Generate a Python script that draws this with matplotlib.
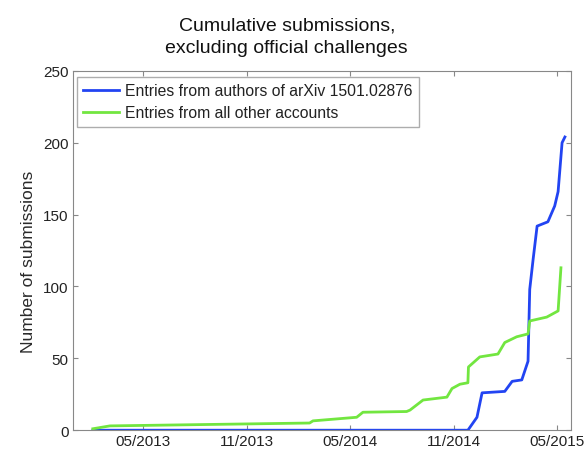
import numpy as np
import pandas as pd
import matplotlib
matplotlib.use('Agg')
import matplotlib.pyplot as plt
import matplotlib.dates as mdates

plt.rcParams['font.family'] = ['Liberation Sans', 'DejaVu Sans']

# cumulative counts
authorDates = ['2013-02-02', '2014-11-25', '2014-12-11', '2014-12-20', '2015-01-29',
               '2015-02-11', '2015-02-28', '2015-03-11', '2015-03-14', '2015-03-20',
               '2015-03-27', '2015-04-15', '2015-04-27', '2015-05-03', '2015-05-10',
               '2015-05-15']
authorCounts = [0, 0, 9, 26, 27, 34, 35, 48, 98, 119, 142, 145, 156, 166, 200, 204]

otherDates = ['2013-02-02', '2013-03-04', '2014-02-19', '2014-02-25', '2014-05-13',
              '2014-05-24', '2014-08-09', '2014-08-15', '2014-09-07', '2014-10-19',
              '2014-10-28', '2014-11-11', '2014-11-25', '2014-11-26', '2014-12-16',
              '2015-01-17', '2015-01-29', '2015-02-19', '2015-03-11', '2015-03-14',
              '2015-04-13', '2015-05-03', '2015-05-08']
otherCounts = [1, 3, 5, 6.5, 9, 12.5, 13, 14, 21, 23, 29, 32, 33, 44, 51,
               53, 61, 65, 67, 76, 78.7, 83, 113]

tickDates = ['2013-05-01', '2013-11-01', '2014-05-01', '2014-11-01', '2015-05-01']

fig = plt.figure(figsize=(5.84, 4.52), dpi=100)
ax = fig.add_axes([0.125, 0.046, 0.853, 0.795])

ax.plot(pd.to_datetime(authorDates), authorCounts, color='#2244f2', lw=2,
        label='Entries from authors of arXiv 1501.02876')
ax.plot(pd.to_datetime(otherDates), otherCounts, color='#72e640', lw=2,
        label='Entries from all other accounts')

ax.set_xlim(pd.Timestamp('2012-12-29'), pd.Timestamp('2015-05-26'))
ax.set_ylim(0, 250)
ax.set_yticks([0, 50, 100, 150, 200, 250])
ax.set_xticks(pd.to_datetime(tickDates))
ax.xaxis.set_major_formatter(mdates.DateFormatter('%m/%Y'))
ax.tick_params(direction='in', top=True, right=True, labelsize=11, color='#888888',
               labelcolor='#222222', pad=3)
for s in ax.spines.values():
    s.set_color('#888888')

fig.text(0.048, 0.42, 'Number of submissions', fontsize=12.5, rotation=90,
         ha='center', va='center', color='#2a2a2a')
fig.text(0.491, 0.883, 'Cumulative submissions,\nexcluding official challenges',
         fontsize=14, ha='center', va='baseline', linespacing=1.45, color='#111111')

leg = ax.legend(loc='upper left', bbox_to_anchor=(0.008, 0.983), borderaxespad=0,
                fontsize=11.3, fancybox=False, handlelength=2.3, handletextpad=0.35,
                labelspacing=0.45, borderpad=0.4)
leg.get_frame().set_edgecolor('#999999')
leg.get_frame().set_linewidth(1)
for t in leg.get_texts():
    t.set_color('#222222')

fig.savefig('out.png', dpi=100)
